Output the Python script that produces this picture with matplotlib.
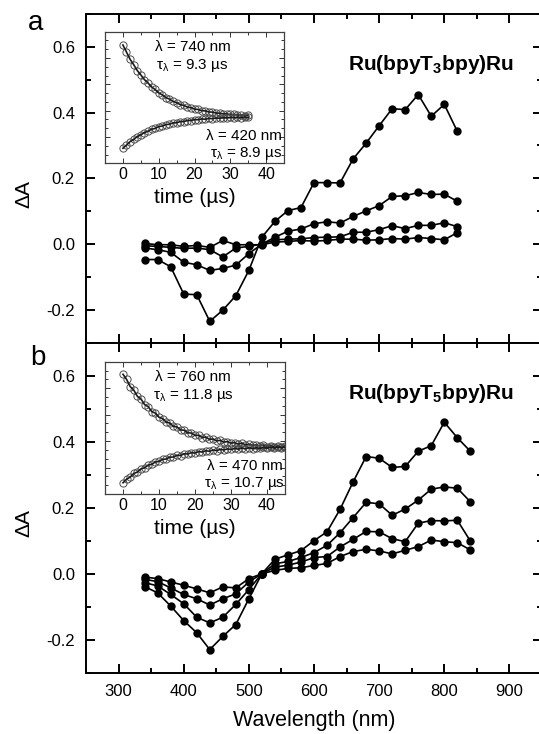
import numpy as np
import matplotlib
matplotlib.use('Agg')
import matplotlib.pyplot as plt
from matplotlib.ticker import MultipleLocator, AutoMinorLocator, NullFormatter

plt.rcParams['font.family'] = ['Liberation Sans', 'DejaVu Sans']
plt.rcParams['mathtext.fontset'] = 'custom'
plt.rcParams['mathtext.rm'] = 'Liberation Sans'
plt.rcParams['mathtext.it'] = 'Liberation Sans:italic'
plt.rcParams['mathtext.bf'] = 'Liberation Sans:bold'

# --- panel a: transient spectra (4 delays) ---
wl_a = [340, 360, 380, 400, 420, 440, 460, 480, 500, 520, 540, 560, 580,
        600, 620, 640, 660, 680, 700, 720, 740, 760, 780, 800, 820]
a1 = [-0.047, -0.047, -0.069, -0.152, -0.154, -0.235, -0.201, -0.157, -0.080, 0.021,
      0.069, 0.102, 0.111, 0.187, 0.187, 0.186, 0.259, 0.307, 0.360, 0.412,
      0.409, 0.455, 0.389, 0.425, 0.343]
a2 = [-0.012, -0.017, -0.025, -0.055, -0.063, -0.080, -0.074, -0.064, -0.029, 0.000,
      0.021, 0.039, 0.046, 0.062, 0.068, 0.064, 0.084, 0.101, 0.117, 0.145,
      0.147, 0.157, 0.151, 0.152, 0.130]
a3 = [-0.005, -0.007, -0.010, -0.013, -0.012, -0.017, -0.039, -0.012, -0.007, 0.000,
      0.013, 0.015, 0.016, 0.020, 0.021, 0.022, 0.036, 0.036, 0.044, 0.056,
      0.047, 0.057, 0.057, 0.065, 0.053]
a4 = [0.002, -0.002, -0.002, -0.007, -0.004, -0.010, 0.011, -0.002, -0.002, -0.002,
      0.006, 0.008, 0.011, 0.009, 0.011, 0.015, 0.015, 0.012, 0.013, 0.017,
      0.015, 0.020, 0.017, 0.013, 0.035]

# --- panel b ---
wl_b = [340, 360, 380, 400, 420, 440, 460, 480, 500, 520, 540, 560, 580,
        600, 620, 640, 660, 680, 700, 720, 740, 760, 780, 800, 820, 840]
b1 = [-0.039, -0.058, -0.098, -0.142, -0.179, -0.230, -0.190, -0.154, -0.076, 0.000,
      0.044, 0.057, 0.070, 0.100, 0.127, 0.195, 0.278, 0.355, 0.350, 0.322,
      0.325, 0.371, 0.388, 0.459, 0.412, 0.371]
b2 = [-0.027, -0.037, -0.063, -0.091, -0.132, -0.149, -0.132, -0.093, -0.048, 0.000,
      0.030, 0.037, 0.049, 0.064, 0.086, 0.124, 0.170, 0.216, 0.212, 0.177,
      0.196, 0.223, 0.256, 0.263, 0.259, 0.218]
b3 = [-0.017, -0.024, -0.043, -0.063, -0.076, -0.095, -0.076, -0.061, -0.025, 0.000,
      0.020, 0.026, 0.035, 0.049, 0.052, 0.081, 0.104, 0.128, 0.127, 0.106,
      0.097, 0.153, 0.161, 0.160, 0.162, 0.099]
b4 = [-0.010, -0.015, -0.025, -0.035, -0.046, -0.058, -0.040, -0.043, -0.015, 0.000,
      0.010, 0.016, 0.018, 0.025, 0.031, 0.052, 0.067, 0.074, 0.069, 0.060,
      0.071, 0.082, 0.102, 0.097, 0.094, 0.072]

# --- insets: kinetic traces (normalised units) ---
t_a = np.arange(0, 36)
ka_740 = [.899, .845, .791, .750, .705, .672, .636, .611, .580, .561,
          .535, .520, .499, .488, .470, .461, .446, .440, .427, .423,
          .412, .409, .400, .398, .390, .389, .382, .381, .376, .375,
          .371, .371, .367, .367, .363, .364]
ka_420 = [.114, .138, .165, .181, .203, .216, .234, .243, .259, .265,
          .279, .283, .294, .297, .307, .308, .317, .317, .325, .325,
          .332, .331, .337, .335, .341, .339, .344, .342, .346, .345,
          .349, .347, .350, .348, .351, .349]
t_b = np.arange(0, 46)
kb_760 = [.905, .866, .812, .785, .738, .718, .676, .660, .623, .611,
          .580, .570, .543, .536, .511, .507, .484, .482, .462, .461,
          .443, .444, .427, .430, .413, .416, .402, .405, .392, .396,
          .384, .389, .377, .385, .371, .377, .367, .372, .362, .369,
          .359, .366, .356, .363, .353, .360]
kb_470 = [.085, .112, .128, .155, .166, .190, .198, .219, .224, .243,
          .246, .262, .264, .279, .279, .293, .291, .304, .302, .313,
          .309, .321, .317, .327, .323, .333, .328, .337, .333, .341,
          .337, .344, .339, .347, .342, .349, .343, .350, .345, .352,
          .346, .353, .347, .354, .348, .355]

W, H = 539, 734
fig = plt.figure(figsize=(W / 100, H / 100), dpi=100)

def px(x0, y0, x1, y1):
    return [x0 / W, 1 - y1 / H, (x1 - x0) / W, (y1 - y0) / H]

def main_axes(rect, wl, series, title, label_x):
    ax = fig.add_axes(rect)
    for s in series:
        ax.plot(wl, s, 'o-', color='black', ms=5.0, lw=1.2)
    ax.set_xlim(250, 950)
    ax.set_ylim(-0.3, 0.7)
    ax.xaxis.set_major_locator(MultipleLocator(100))
    ax.xaxis.set_minor_locator(MultipleLocator(50))
    ax.yaxis.set_major_locator(MultipleLocator(0.2))
    ax.yaxis.set_minor_locator(MultipleLocator(0.1))
    ax.yaxis.set_major_formatter(lambda v, p: f'{v:.1f}')
    ax.tick_params(which='both', direction='in', top=True, right=True, width=1.4)
    ax.tick_params(which='major', length=6.5, labelsize=12, pad=8)
    ax.tick_params(which='minor', length=3.5)
    for sp in ax.spines.values():
        sp.set_linewidth(1.4)
    ax.set_ylabel('ΔA', fontsize=15)
    ax.yaxis.set_label_coords(-0.116, 0.452)
    if not label_x:
        ax.tick_params(labelbottom=False)
    ax.text(0.756, 0.83, title, transform=ax.transAxes, fontsize=15,
            ha='center', va='baseline')
    return ax

def inset(rect, t, k1, k2, texts):
    ax = fig.add_axes(rect)
    for k in (k1, k2):
        ax.plot(t, k, 'o', mfc='none', mec='0.3', ms=5.2, mew=0.7)
        ax.plot(t, k, '-', color='0.1', lw=1.2)
    ax.set_xlim(-5, 45)
    ax.set_ylim(0, 1)
    ax.xaxis.set_major_locator(MultipleLocator(10))
    ax.xaxis.set_minor_locator(MultipleLocator(5))
    ax.yaxis.set_major_locator(MultipleLocator(0.2))
    ax.yaxis.set_minor_locator(AutoMinorLocator(3))
    ax.yaxis.set_major_formatter(NullFormatter())
    ax.tick_params(which='both', direction='in', top=True, right=True,
                   width=0.7, color='0.2')
    ax.tick_params(which='major', length=3.5, labelsize=11.5, pad=3)
    ax.tick_params(which='minor', length=2)
    for sp in ax.spines.values():
        sp.set_linewidth(0.9)
        sp.set_color('0.25')
    ax.set_xlabel('time (µs)', fontsize=15)
    ax.xaxis.set_label_coords(0.5, -0.19)
    for (x, y, s, ha) in texts:
        ax.text(x, y, s, transform=ax.transAxes, fontsize=11, ha=ha, va='baseline')
    return ax

ax_a = main_axes(px(86, 14, 542, 342.7), wl_a, [a1, a2, a3, a4],
                 r'$\mathbf{Ru(bpyT_3bpy)Ru}$', False)
ax_b = main_axes(px(86, 342.7, 542, 672.7), wl_b, [b1, b2, b3, b4],
                 r'$\mathbf{Ru(bpyT_5bpy)Ru}$', True)
ax_b.set_xlabel('Wavelength (nm)', fontsize=15.5)
ax_b.xaxis.set_label_coords(0.5, -0.112)

inset(px(105, 31.7, 284, 163.3), t_a, ka_740, ka_420,
      [(0.49, 0.855, 'λ = 740 nm', 'center'),
       (0.49, 0.72, r'$\mathrm{\tau_{\lambda}}$ = 9.3 µs', 'center'),
       (0.99, 0.18, 'λ = 420 nm', 'right'),
       (0.99, 0.05, r'$\mathrm{\tau_{\lambda}}$ = 8.9 µs', 'right')])
inset(px(105, 361.7, 285, 494), t_b, kb_760, kb_470,
      [(0.49, 0.855, 'λ = 760 nm', 'center'),
       (0.49, 0.72, r'$\mathrm{\tau_{\lambda}}$ = 11.8 µs', 'center'),
       (0.99, 0.18, 'λ = 470 nm', 'right'),
       (1.0, 0.05, r'$\mathrm{\tau_{\lambda}}$ = 10.7 µs', 'right')])

fig.text(28 / W, 1 - 30 / H, 'a', fontsize=20, ha='left', va='baseline')
fig.text(30 / W, 1 - 365 / H, 'b', fontsize=20, ha='left', va='baseline')

fig.savefig('out.png', dpi=100)
